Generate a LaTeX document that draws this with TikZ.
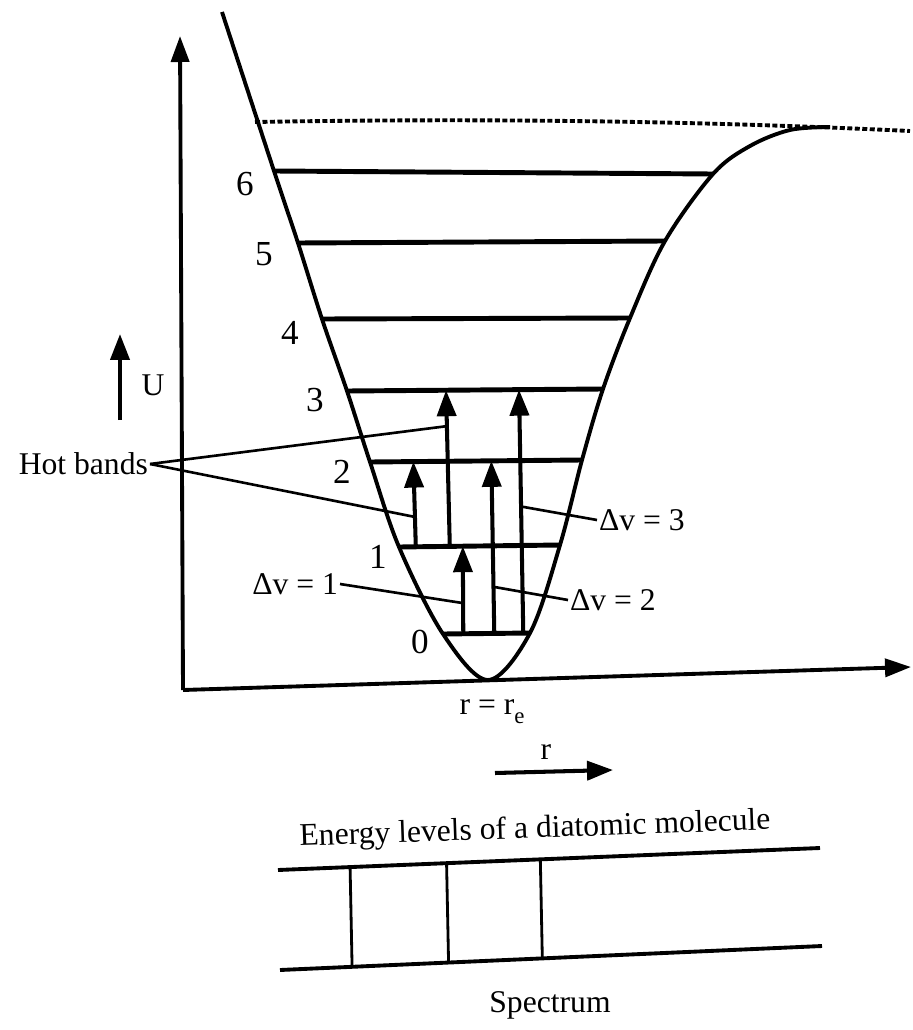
\documentclass[tikz,border=0pt]{standalone}
\usepackage{fontspec}
\setmainfont{Liberation Serif}
\usetikzlibrary{arrows.meta, calc}
\tikzset{
  ax/.style={line width=2.2pt, -{Triangle[length=5.2mm, width=3.6mm]}},
  pot/.style={line width=2.2pt},
  lvl/.style={line width=2.8pt},
  tr/.style={line width=2.3pt, -{Triangle[length=5.2mm, width=3.8mm]}},
  ld/.style={line width=1.5pt},
  diss/.style={line width=2.2pt, dash pattern=on 1mm off 0.5mm},
  spc/.style={line width=2.2pt},
  spcl/.style={line width=1.6pt},
  lbl/.style={font=\fontsize{18}{21}\selectfont, inner sep=1pt},
  num/.style={font=\fontsize{20}{24}\selectfont, inner sep=1pt},
}

\begin{document}
\begin{tikzpicture}[x=0.02cm, y=-0.02cm]
  \useasboundingbox (0,0) rectangle (912,1030);
  % ---------- axes ----------
  \coordinate (O) at (183,690);
  \coordinate (ytip) at (180,36);
  \coordinate (xtip) at (911,667);
  \draw[ax] (O) -- (ytip);
  \draw[ax] (O) -- (xtip);
  \coordinate (u0) at (120,420); \coordinate (u1) at (120,334);
  \draw[tr] (u0) -- (u1);
  \node[lbl] (ulab) at (153,385) {U};
  % ---------- dissociation limit ----------
  \coordinate (d0) at (255,122); \coordinate (d1) at (910,131);
  \draw[diss] (d0) .. controls (550,117) and (760,124) .. (d1);
  % ---------- levels ----------
  \foreach \v/\xl/\yl/\xr/\yr/\nx/\ny in {0/443/634/530/633/420/642, 1/399/547/560/545/378/557,
      2/370/462/582/460/342/472, 3/347/391/603/389/315/400, 4/322/319/630/318/290/333,
      5/298/243/665/241/264/254, 6/274/171/713/174/245/184}{
    \coordinate (L\v) at (\xl,\yl);
    \coordinate (R\v) at (\xr,\yr);
    \draw[lvl] (L\v) -- (R\v);
    \node[num] (n\v) at (\nx,\ny) {\v};
  }
  % ---------- potential curve ----------
  \draw[pot] plot[smooth, tension=0.55] coordinates {(222,12) (L6) (L5) (L4) (L3) (L2) (L1) (L0)
      (488,680) (R0) (R1) (R2) (R3) (R4) (R5) (R6) (750,146) (790,130) (830,127)};
  % ---------- transitions ----------
  \foreach \n/\x/\a/\b in {h1/409/1/2, h2/443/1/3, t1/456/0/1, t2/487/0/2, t3/516/0/3}{
    \coordinate (\n-s) at ($(L\a)!(\x,0)!(R\a)$);
    \coordinate (\n-e) at ($(L\b)!(\x,0)!(R\b)$);
    \draw[tr] (\n-s) -- (\n-e);
  }
  % ---------- labels ----------
  \node[lbl, anchor=east] (hot) at (150,464) {Hot bands};
  \draw[ld] (hot.east) -- ($(h2-s)!0.77!(h2-e)$);
  \draw[ld] (hot.east) -- ($(h1-s)!0.35!(h1-e)$);
  \node[lbl, anchor=east] (dv1) at (340,584) {Δv = 1};
  \draw[ld] (dv1.east) -- ($(t1-s)!0.35!(t1-e)$);
  \node[lbl, anchor=west] (dv2) at (568,600) {Δv = 2};
  \draw[ld] (dv2.west) -- ($(t2-s)!0.27!(t2-e)$);
  \node[lbl, anchor=west] (dv3) at (597,520) {Δv = 3};
  \draw[ld] (dv3.west) -- ($(t3-s)!0.52!(t3-e)$);
  \node[lbl] (re) at (492,712) {r = r\raisebox{-0.6ex}{\fontsize{13}{13}\selectfont e}};
  \node[lbl] (rlab) at (546,752) {r};
  \coordinate (r0) at (495,773); \coordinate (r1) at (613,770);
  \draw[tr] (r0) -- (r1);
  \node[lbl, rotate=2] (cap) at (535,830) {Energy levels of a diatomic molecule};
  % ---------- spectrum ----------
  \coordinate (s1) at (278,870); \coordinate (s2) at (820,848);
  \coordinate (s3) at (280,970); \coordinate (s4) at (822,946);
  \draw[spc] (s1) -- (s2);
  \draw[spc] (s3) -- (s4);
  \foreach \p in {0.133,0.311,0.484}
    \draw[spcl] ($(s1)!\p!(s2)$) -- ($(s3)!\p!(s4)$);
  \node[lbl] (spec) at (550,1005) {Spectrum};
\end{tikzpicture}
\end{document}
